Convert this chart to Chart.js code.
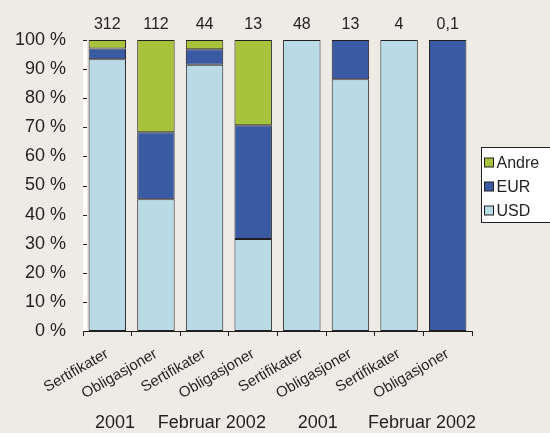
<!DOCTYPE html>
<html>
<head>
<meta charset="utf-8">
<script src="https://cdn.jsdelivr.net/npm/chart.js@4/dist/chart.umd.min.js"></script>
<style>
    html, body { margin: 0; padding: 0; background: #eeebe7; }
    #wrap { width: 550px; height: 433px; position: relative; }
</style>
</head>
<body>
<div id="wrap"><canvas id="fundChart" width="550" height="433"></canvas></div>
<script>
// categories and totals printed above each bar
const categories = ['Sertifikater', 'Obligasjoner', 'Sertifikater', 'Obligasjoner', 'Sertifikater', 'Obligasjoner', 'Sertifikater', 'Obligasjoner'];
const totals = ['312', '112', '44', '13', '48', '13', '4', '0,1'];

// currency shares in percent
const usd = [93.4, 45.3, 91.5, 31.6, 100, 86.5, 100, 0];
const eur = [3.7, 23.0, 5.3, 39.1, 0, 13.5, 0, 100];
const andre = [2.9, 31.7, 3.2, 29.3, 0, 0, 0, 0];

// period labels under the axis (position in category units)
const periods = ['2001', 'Februar 2002', '2001', 'Februar 2002'];
const periodPos = [0.16, 2.15, 4.33, 6.47];

const yTicks = [0, 10, 20, 30, 40, 50, 60, 70, 80, 90, 100];

const colAndre = '#a6c33b';
const colEur = '#3b5aa4';
const colUsd = '#b8dbe6';
const ink = '#231f20';
const font = '"Liberation Sans", Arial, sans-serif';

const extras = {
    id: 'extras',
    beforeDatasetsDraw(chart) {
        // thin white strip just inside the value axis
        const a = chart.chartArea, ctx = chart.ctx;
        ctx.save();
        ctx.fillStyle = '#ffffff';
        ctx.fillRect(a.left, a.top, 4, a.bottom - a.top);
        ctx.restore();
    },
    afterDraw(chart) {
        const ctx = chart.ctx;
        const xs = chart.scales.x, ys = chart.scales.y;
        ctx.save();
        ctx.fillStyle = ink;

        // totals above bars
        ctx.font = '16px ' + font;
        ctx.textAlign = 'center';
        ctx.textBaseline = 'middle';
        totals.forEach((t, i) => ctx.fillText(t, xs.getPixelForValue(i), ys.top - 15));

        // period labels
        ctx.font = '18px ' + font;
        periods.forEach((p, i) => {
            const x = xs.getPixelForValue(0) + periodPos[i] * (xs.getPixelForValue(1) - xs.getPixelForValue(0));
            ctx.fillText(p, x, 423);
        });

        // small inward ticks on the value axis
        ctx.strokeStyle = ink;
        ctx.lineWidth = 1;
        ctx.beginPath();
        yTicks.forEach(v => {
            const y = Math.round(ys.getPixelForValue(v)) + 0.5;
            ctx.moveTo(xs.left, y);
            ctx.lineTo(xs.left + 4, y);
        });
        ctx.stroke();

        // legend box
        const lx = 481.5, ly = 147.5, lw = 80, lh = 75;
        ctx.fillStyle = '#ffffff';
        ctx.fillRect(lx, ly, lw, lh);
        ctx.strokeStyle = ink;
        ctx.strokeRect(lx, ly, lw, lh);
        const items = [['Andre', colAndre], ['EUR', colEur], ['USD', colUsd]];
        ctx.font = '16px ' + font;
        ctx.textAlign = 'left';
        items.forEach((it, i) => {
            const cy = ly + 15 + i * 24;
            ctx.fillStyle = it[1];
            ctx.fillRect(lx + 3, cy - 4.5, 9, 9);
            ctx.strokeStyle = ink;
            ctx.strokeRect(lx + 3, cy - 4.5, 9, 9);
            ctx.fillStyle = ink;
            ctx.fillText(it[0], lx + 15, cy + 1);
        });
        ctx.restore();
    }
};

const barStyle = { borderColor: ink, borderWidth: 1, borderSkipped: false, barPercentage: 0.77, categoryPercentage: 1 };

new Chart(document.getElementById('fundChart').getContext('2d'), {
    type: 'bar',
    data: {
        labels: categories,
        datasets: [
            Object.assign({ label: 'USD', data: usd, backgroundColor: colUsd }, barStyle),
            Object.assign({ label: 'EUR', data: eur, backgroundColor: colEur }, barStyle),
            Object.assign({ label: 'Andre', data: andre, backgroundColor: colAndre }, barStyle)
        ]
    },
    options: {
        responsive: false,
        animation: false,
        layout: { padding: { left: 0, right: 78, top: 40, bottom: 0 } },
        plugins: { legend: { display: false }, tooltip: { enabled: false } },
        scales: {
            x: {
                stacked: true,
                afterFit: s => { s.height = 102; },
                grid: { display: true, offset: true, drawOnChartArea: false, tickLength: 5, color: ink },
                border: { display: true, color: ink },
                ticks: { color: ink, font: { family: font, size: 15 }, minRotation: 30, maxRotation: 30, padding: 9 }
            },
            y: {
                stacked: true,
                min: 0,
                max: 100,
                afterFit: s => { s.width = 83; },
                afterBuildTicks: s => { s.ticks = yTicks.map(v => ({ value: v })); },
                grid: { display: false },
                border: { display: true, color: ink },
                ticks: { color: ink, font: { family: font, size: 18 }, padding: 9, callback: v => v + ' %' }
            }
        }
    },
    plugins: [extras]
});
</script>
</body>
</html>
